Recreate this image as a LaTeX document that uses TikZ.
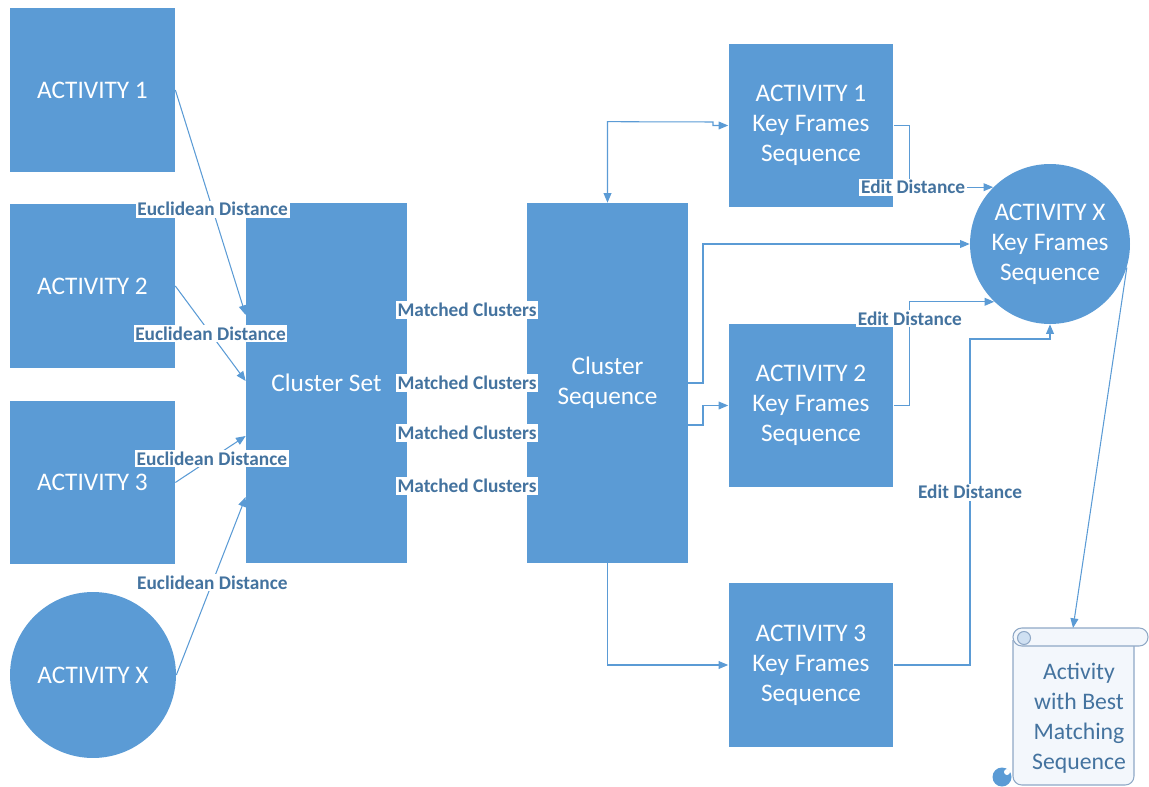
\documentclass[tikz,border=0pt]{standalone}
\usepackage{fontspec}
\setmainfont{Carlito}
\usepackage{xcolor}
\definecolor{oblue}{HTML}{5B9BD5}
\definecolor{otext}{HTML}{44739F}
\definecolor{oscroll}{HTML}{F3F7FC}
\definecolor{ocurl}{HTML}{CFE0F2}
\definecolor{oedge}{HTML}{8FA8C6}
\usetikzlibrary{arrows.meta,positioning,calc}

\begin{document}
\begin{tikzpicture}[x=0.02cm,y=-0.02cm,
  >={Triangle[length=5.5pt,width=4.5pt]},
  blk/.style={rectangle,fill=oblue,text=white,inner sep=0pt,align=center,
    minimum width=3.3cm,minimum height=3.28cm,font=\fontsize{14.4}{17.1}\selectfont},
  tall/.style={blk,minimum width=3.22cm,minimum height=7.2cm},
  rnd/.style={blk,circle,minimum size=3.32cm},
  dist/.style={fill=white,text=otext,inner sep=1pt,font=\fontsize{11}{13}\selectfont\bfseries},
  link/.style={draw=oblue,line width=0.6pt,->},
  scrollline/.style={draw=oedge,line width=0.6pt}]
\useasboundingbox (0,0) rectangle (1149,787);
% activities on the left
\foreach \i/\y in {1/90,2/286,3/482.5}{ \node[blk] (a\i) at (92.5,\y) {ACTIVITY \i}; }
\node[rnd] (ax) at (93,675) {ACTIVITY X};
% cluster boxes
\node[tall] (cset) at (326.5,383) {Cluster Set};
\node[tall] (cseq) at (607.5,383) {Cluster\\Sequence};
% key frame sequences
\foreach \i/\y in {1/125.5,2/405.5,3/665}{
  \node[blk] (k\i) at (811,\y) {ACTIVITY \i\\Key Frames\\Sequence}; }
\node[rnd,minimum size=3.2cm] (kx) at (1050,244) {ACTIVITY X\\Key Frames\\Sequence};
% euclidean distances into the cluster set
\foreach \s/\dy/\p in {a1/-68/0.53,a2/-2/0.5,a3/53/0.52,ax/114/0.52}{
  \draw[link] (\s.east) -- node[dist,pos=\p] {Euclidean Distance} ($(cset.west)+(0,\dy)$); }
% matched clusters (labels only)
\foreach \i/\y in {1/310,2/383,3/433,4/486}{
  \node[dist] (mc\i) at (467,\y) {Matched Clusters}; }
% cluster sequence to key frames
\draw[link,<->] (cseq.north) -- ++(0,-81) -- (713,122) -- (713,125.5) -- (k1.west);
\draw[link] (cseq.east) -- (703,383) |- (kx.west);
\draw[link] ($(cseq.east)+(0,42)$) -- (703,425) |- (k2.west);
\draw[link] (cseq.south) |- (k3.west);
% edit distances into activity x
\draw[link] (k1.east) -- ++(16,0) |- node[dist,pos=0.52] {Edit Distance} (kx.135);
\draw[link] (k2.east) -- ++(16,0) |- node[dist,pos=0.42] {Edit Distance} (kx.226);
\draw[link] (k3.east) -| node[dist,pos=0.765] {Edit Distance} (970,339) -| (kx.south);
% scroll with the result
\draw[scrollline,fill=oscroll,rounded corners=5pt] (1013,640) -- (1013,785) -- (1134,785) -- (1134,640);
\draw[scrollline,fill=oscroll,rounded corners=5pt] (1013,628) rectangle (1148,646);
\draw[scrollline,fill=ocurl] (1024,638) circle[radius=0.13cm];
\fill[oblue] (1002,777) circle[radius=0.19cm];
\fill[white] (1007,772) circle[radius=0.06cm];
\node[text=otext,align=center,font=\fontsize{13.5}{17.1}\selectfont] (best) at (1079,718)
  {Activity\\with Best\\Matching\\Sequence};
\coordinate (scrolltop) at (1073,628);
\draw[link] (kx.-17) -- (scrolltop);
\end{tikzpicture}
\end{document}
